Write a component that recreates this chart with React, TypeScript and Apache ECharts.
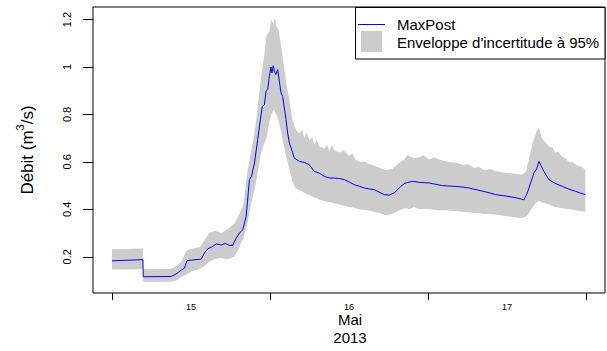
import React, { useEffect, useRef } from "react";
import * as echarts from "echarts";

// Hours since 15 May 2013 00:00
const lineHours = [
  0, 4.7, 4.75, 9.0, 9.76, 10.6, 11.0, 11.4, 13.55, 14.05, 14.55, 15.07, 15.83, 16.6, 17.2, 17.85, 18.35, 18.6,
  19.36, 19.86, 20.38, 20.88, 21.2, 21.64, 22.13, 22.65, 22.85, 23.15, 23.4, 23.65, 23.9, 24.14, 24.3, 24.5,
  24.67, 24.9, 25.17, 25.42, 25.68, 25.93, 26.18, 26.44, 26.68, 26.94, 27.2, 27.44, 27.7, 28.46, 29.2, 29.97,
  30.73, 31.5, 32.26, 33.0, 33.78, 34.54, 35.3, 36.04, 36.8, 37.57, 38.33, 39.1, 39.83, 40.6, 41.35, 42.1,
  42.87, 43.88, 44.5, 45.63, 46.65, 48.17, 50.2, 51.96, 53.2, 54.2, 55.74, 57.26, 58.28, 60.3, 61.5, 62.57,
  63.07, 63.58, 64.08, 64.5, 64.84, 65.15, 65.6, 66.36, 67.27, 68.38, 69.4, 70.4, 71.2, 71.9,
];
const lineValues = [
  0.183, 0.188, 0.116, 0.117, 0.128, 0.145, 0.152, 0.184, 0.19, 0.216, 0.234, 0.24, 0.254, 0.25, 0.256, 0.248, 0.248, 0.265,
  0.3, 0.314, 0.37, 0.525, 0.54, 0.595, 0.694, 0.8, 0.834, 0.841, 0.897, 0.905, 0.96, 1.0, 0.975, 1.005,
  0.982, 0.968, 0.989, 0.94, 0.89, 0.876, 0.827, 0.778, 0.722, 0.68, 0.659, 0.638, 0.616, 0.602, 0.598, 0.588,
  0.56, 0.552, 0.539, 0.532, 0.532, 0.53, 0.525, 0.515, 0.504, 0.497, 0.49, 0.486, 0.483, 0.472, 0.462, 0.46,
  0.469, 0.497, 0.51, 0.518, 0.514, 0.511, 0.5, 0.497, 0.494, 0.49, 0.48, 0.47, 0.462, 0.454, 0.448, 0.44,
  0.469, 0.511, 0.553, 0.57, 0.602, 0.585, 0.56, 0.525, 0.51, 0.497, 0.485, 0.476, 0.468, 0.462,
];

const bandHours = [
  0, 4.7, 4.75, 9.0, 9.76, 10.56, 11.3, 12.2, 13.3, 14.05, 14.8, 15.57, 16.6, 17.5, 18.6, 19.36, 19.97, 20.57,
  21.18, 21.64, 22.1, 22.65, 23.15, 23.45, 23.9, 24.2, 24.5, 24.75, 24.97, 25.27, 25.58, 25.88, 26.18, 26.48,
  26.94, 27.4, 27.85, 28.46, 28.9, 29.2, 29.6, 29.97, 30.4, 30.7, 31.1, 31.5, 32.26, 32.7, 33.0, 33.4, 33.78,
  34.54, 35.2, 36.04, 36.5, 37.0, 37.57, 38.3, 39.1, 39.8, 40.6, 41.6, 42.55, 43.6, 44.4, 44.9, 45.15, 45.9,
  46.65, 47.3, 48.17, 49.0, 49.68, 50.4, 51.2, 52.3, 53.17, 54.1, 55.0, 55.8, 56.5, 57.4, 58.3, 59.3, 60.3,
  61.3, 62.27, 62.9, 63.3, 63.9, 64.5, 64.84, 65.3, 65.9, 66.36, 66.9, 67.27, 67.8, 68.33, 68.9, 69.4,
  70.0, 70.6, 71.2, 71.9,
];
const bandUpper = [
  0.232, 0.235, 0.148, 0.15, 0.16, 0.18, 0.225, 0.235, 0.24, 0.27, 0.3, 0.31, 0.3, 0.315, 0.34, 0.38, 0.42, 0.56,
  0.65, 0.72, 0.82, 0.96, 1.05, 1.13, 1.15, 1.2, 1.18, 1.208, 1.17, 1.16, 1.11, 1.05, 0.99, 0.93,
  0.86, 0.78, 0.74, 0.72, 0.735, 0.7, 0.725, 0.69, 0.705, 0.675, 0.69, 0.665, 0.655, 0.672, 0.645, 0.67, 0.65,
  0.64, 0.648, 0.625, 0.635, 0.61, 0.6, 0.602, 0.59, 0.585, 0.575, 0.565, 0.57, 0.595, 0.61, 0.63, 0.625, 0.615,
  0.62, 0.628, 0.61, 0.618, 0.61, 0.605, 0.6, 0.596, 0.588, 0.59, 0.575, 0.578, 0.565, 0.57, 0.56, 0.556, 0.552,
  0.55, 0.546, 0.56, 0.61, 0.68, 0.73, 0.745, 0.7, 0.68, 0.665, 0.66, 0.64, 0.642, 0.623, 0.615, 0.6,
  0.598, 0.585, 0.582, 0.567,
];
const bandLower = [
  0.146, 0.148, 0.095, 0.095, 0.1, 0.115, 0.125, 0.14, 0.15, 0.16, 0.18, 0.19, 0.195, 0.19, 0.2, 0.24, 0.28, 0.34,
  0.43, 0.48, 0.55, 0.64, 0.68, 0.7, 0.77, 0.8, 0.82, 0.81, 0.8, 0.78, 0.74, 0.7, 0.66, 0.62,
  0.57, 0.52, 0.49, 0.48, 0.475, 0.47, 0.465, 0.46, 0.455, 0.45, 0.447, 0.44, 0.435, 0.432, 0.43, 0.428, 0.425,
  0.42, 0.415, 0.41, 0.408, 0.405, 0.4, 0.398, 0.395, 0.39, 0.385, 0.375, 0.38, 0.395, 0.405, 0.403, 0.4, 0.41,
  0.4, 0.402, 0.4, 0.398, 0.395, 0.396, 0.395, 0.392, 0.39, 0.388, 0.385, 0.383, 0.38, 0.379, 0.378, 0.374, 0.37,
  0.366, 0.363, 0.37, 0.384, 0.41, 0.43, 0.435, 0.43, 0.425, 0.42, 0.415, 0.41, 0.408, 0.405, 0.402, 0.4,
  0.398, 0.395, 0.392, 0.39,
];

const yTicks = [0.2, 0.4, 0.6, 0.8, 1.0, 1.2];
const yTickLabels = ["0.2", "0.4", "0.6", "0.8", "1", "1.2"];
const dayTicks = [0, 24, 48, 72];
const dayLabelPos = [12, 36, 60];
const dayLabels = ["15", "16", "17"];
const monthLabel = "Mai";
const yearLabel = "2013";
const yTitle = "Débit (m";
const yTitleSup = "3";
const yTitleEnd = "/s)";
const seriesNames = ["MaxPost", "Enveloppe d'incertitude à 95%"];

const X_MIN = -2.88;
const X_MAX = 74.88;
const Y_MIN = 0.0474;
const Y_MAX = 1.2527;

const FONT = "'Liberation Sans', Arial, Helvetica, sans-serif";

export default function App() {
  const ref = useRef<HTMLDivElement>(null);
  useEffect(() => {
    document.body.style.margin = "0";
    const chart = echarts.init(ref.current as HTMLDivElement, null, { renderer: "svg" });
    chart.setOption({
      animation: false,
      grid: {
        left: 93,
        right: 2,
        top: 7,
        bottom: 58,
        show: true,
        borderColor: "#000",
        borderWidth: 1,
        backgroundColor: "transparent",
      },
      xAxis: {
        type: "value",
        min: X_MIN,
        max: X_MAX,
        splitLine: { show: false },
        axisLine: { show: false, onZero: false },
        axisTick: { show: true, customValues: dayTicks, length: 7, lineStyle: { color: "#000" } },
        axisLabel: {
          customValues: dayLabelPos,
          formatter: (v: number) => {
            const i = dayLabelPos.findIndex((p) => Math.abs(p - v) < 1e-6);
            return i >= 0 ? dayLabels[i] : "";
          },
          fontSize: 9,
          color: "#000",
          margin: 9,
          fontFamily: FONT,
        },
      },
      yAxis: {
        type: "value",
        min: Y_MIN,
        max: Y_MAX,
        splitLine: { show: false },
        axisLine: { show: false, onZero: false },
        axisTick: { show: true, customValues: yTicks, length: 10, lineStyle: { color: "#000" } },
        axisLabel: {
          customValues: yTicks,
          rotate: 90,
          formatter: (v: number) => {
            const i = yTicks.findIndex((p) => Math.abs(p - v) < 1e-6);
            return i >= 0 ? yTickLabels[i] : "";
          },
          fontSize: 11,
          color: "#000",
          margin: 21,
          fontFamily: FONT,
        },
      },
      series: [
        {
          name: seriesNames[1],
          type: "custom",
          silent: true,
          z: 1,
          data: [[0, 0.5]],
          renderItem: (params: any, api: any) => {
            if (params.dataIndex !== 0) return null;
            const pts: number[][] = [];
            for (let i = 0; i < bandHours.length; i++) pts.push(api.coord([bandHours[i], bandUpper[i]]));
            for (let i = bandHours.length - 1; i >= 0; i--) pts.push(api.coord([bandHours[i], bandLower[i]]));
            return { type: "polygon", shape: { points: pts }, style: { fill: "#cccccc" } };
          },
        },
        {
          name: seriesNames[0],
          type: "line",
          z: 2,
          data: lineHours.map((h, i) => [h, lineValues[i]]),
          showSymbol: false,
          symbol: "none",
          lineStyle: { color: "#0000ff", width: 1 },
        },
      ],
      graphic: [
        {
          type: "text",
          x: 25,
          y: 150,
          rotation: Math.PI / 2,
          style: {
            text: `{a|${yTitle}}{s|${yTitleSup}}{a|${yTitleEnd}}`,
            align: "center",
            verticalAlign: "middle",
            rich: {
              a: { fontSize: 17, fontFamily: FONT, fill: "#000", lineHeight: 21, verticalAlign: "bottom" },
              s: { fontSize: 11, fontFamily: FONT, fill: "#000", lineHeight: 12, verticalAlign: "top" },
            },
          },
        },
        {
          type: "text",
          x: 350,
          y: 319.5,
          style: { text: monthLabel, fontSize: 15, fontFamily: FONT, fill: "#000", align: "center", verticalAlign: "middle" },
        },
        {
          type: "text",
          x: 350,
          y: 337.5,
          style: { text: yearLabel, fontSize: 15, fontFamily: FONT, fill: "#000", align: "center", verticalAlign: "middle" },
        },
        {
          type: "rect",
          shape: { x: 355.5, y: 7.5, width: 249.5, height: 51.5 },
          style: { fill: "#fff", stroke: "#000", lineWidth: 1 },
          z: 10,
        },
        {
          type: "line",
          shape: { x1: 358, y1: 24.5, x2: 385, y2: 24.5 },
          style: { stroke: "#0000ff", lineWidth: 1 },
          z: 11,
        },
        {
          type: "rect",
          shape: { x: 361, y: 31, width: 21, height: 21 },
          style: { fill: "#cccccc" },
          z: 11,
        },
        {
          type: "text",
          x: 397,
          y: 24.5,
          style: { text: seriesNames[0], fontSize: 15, fontFamily: FONT, fill: "#000", verticalAlign: "middle" },
          z: 11,
        },
        {
          type: "text",
          x: 397,
          y: 42,
          style: { text: seriesNames[1], fontSize: 15, fontFamily: FONT, fill: "#000", verticalAlign: "middle" },
          z: 11,
        },
      ],
    });
    return () => chart.dispose();
  }, []);
  return <div ref={ref} style={{ width: 607, height: 351 }} />;
}
